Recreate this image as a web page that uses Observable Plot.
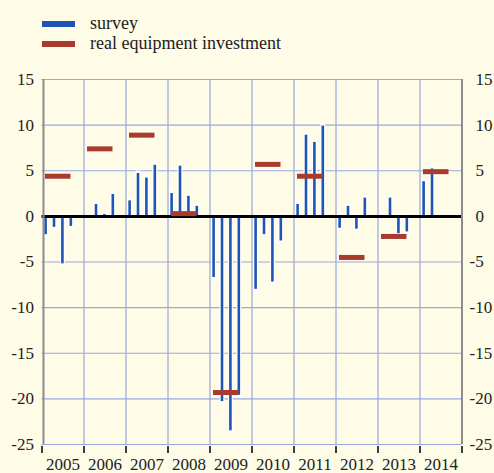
<!DOCTYPE html>
<html>
<head>
<meta charset="utf-8">
<script src="https://cdn.jsdelivr.net/npm/d3@7"></script>
<script src="https://cdn.jsdelivr.net/npm/@observablehq/plot@0.6"></script>
<style>
  html, body { margin: 0; padding: 0; background: #fefbe6; }
  #wrap { position: relative; width: 494px; height: 473px; overflow: hidden; font-family: "Liberation Serif", "Times New Roman", Times, "DejaVu Serif", serif; color: #222; }
  #legend { position: relative; height: 62px; }
  .item { position: absolute; left: 42px; display: flex; align-items: center; font-size: 18px; }
  .sw { width: 33px; height: 6px; margin-right: 15px; }
  #chart svg { display: block; }
</style>
</head>
<body>
<div id="wrap">
  <div id="legend"></div>
  <div id="chart"></div>
</div>
<script>
const years = [2005, 2006, 2007, 2008, 2009, 2010, 2011, 2012, 2013, 2014];
const seriesNames = ["survey", "real equipment investment"];
const seriesColors = ["#1c55b2", "#a83a2e"];
// survey readings, four per year (null = not shown)
const survey = [
  -2.0, -1.2, -5.2, -1.1,
  null, 1.3, 0.2, 2.4,
  1.7, 4.7, 4.2, 5.6,
  2.5, 5.5, 2.2, 1.1,
  -6.7, -20.3, -23.5, -19.6,
  -8.0, -2.0, -7.2, -2.7,
  1.3, 8.9, 8.1, 9.9,
  -1.3, 1.1, -1.4, 2.0,
  0.1, 2.0, -1.9, -1.7,
  3.8, 5.2, null, null
];
// annual real equipment investment
const investment = [4.4, 7.4, 8.9, 0.3, -19.3, 5.7, 4.4, -4.5, -2.2, 4.9];
const yTicks = [15, 10, 5, 0, -5, -10, -15, -20, -25];

const surveyData = survey.map((v, i) => ({
  year: years[Math.floor(i / 4)], q: i % 4, value: v
})).filter(d => d.value !== null).map(d => ({...d, x: d.year + 0.086 + d.q * 0.2}));
const investData = years.map((y, i) => ({year: y, value: investment[i], x1: y + 0.083, x2: y + 0.69}));

// legend
const legend = document.getElementById("legend");
seriesNames.forEach((name, i) => {
  const it = document.createElement("div");
  it.className = "item";
  it.style.top = (i === 0 ? 13 : 33) + "px";
  it.innerHTML = `<span class="sw" style="background:${seriesColors[i]}"></span><span>${name}</span>`;
  legend.appendChild(it);
});

const gridColor = "#9aa7e0";
const font = "'Liberation Serif', 'Times New Roman', Times, 'DejaVu Serif', serif";
const chart = Plot.plot({
  width: 494,
  height: 411,
  marginLeft: 41.5,
  marginRight: 32.5,
  marginTop: 17,
  marginBottom: 29,
  x: {domain: [2005, 2015], label: null},
  y: {domain: [-25, 15], label: null},
  style: {background: "transparent", fontFamily: font, fontSize: "17px", color: "#222"},
  marks: [
    Plot.gridY(yTicks.filter(d => d !== 0), {stroke: gridColor, strokeOpacity: 1, strokeWidth: 1.2}),
    Plot.gridX(years.slice(1), {stroke: gridColor, strokeOpacity: 1, strokeWidth: 1.2}),
    Plot.ruleX(surveyData, {x: "x", y1: 0, y2: "value", stroke: "white", strokeWidth: 5, strokeLinecap: "square"}),
    Plot.ruleX(surveyData, {x: "x", y1: 0, y2: "value", stroke: seriesColors[0], strokeWidth: 2.6}),
    Plot.ruleY([0], {stroke: "#000", strokeWidth: 3}),
    Plot.ruleY(investData, {y: "value", x1: "x1", x2: "x2", stroke: seriesColors[1], strokeWidth: 5}),
    Plot.ruleX([2005], {y1: -25, y2: 15, stroke: "#8c8c8c", strokeWidth: 2, dx: 1.5}),
    Plot.ruleX([2015], {y1: -25, y2: 15, stroke: "#8c8c8c", strokeWidth: 2}),
    Plot.axisY({anchor: "left", ticks: yTicks, tickSize: 0, tickPadding: 8, tickFormat: d => String(d), label: null}),
    Plot.axisY({anchor: "right", ticks: yTicks.filter(d => d >= 0), tickSize: 0, tickPadding: 13.5, tickFormat: d => String(d), label: null}),
    Plot.axisY({anchor: "right", ticks: yTicks.filter(d => d < 0), tickSize: 0, tickPadding: 7.5, tickFormat: d => String(d), label: null}),
    Plot.axisX({anchor: "bottom", ticks: years.concat([2015]), tickSize: 7, tickFormat: () => "", stroke: "#000", strokeWidth: 1.5, dy: 2, label: null}),
    Plot.axisX({anchor: "bottom", ticks: years.map(y => y + 0.5), tickSize: 0, tickPadding: 13, tickFormat: d => String(Math.floor(d)), label: null})
  ]
});
document.getElementById("chart").appendChild(chart);
</script>
</body>
</html>
